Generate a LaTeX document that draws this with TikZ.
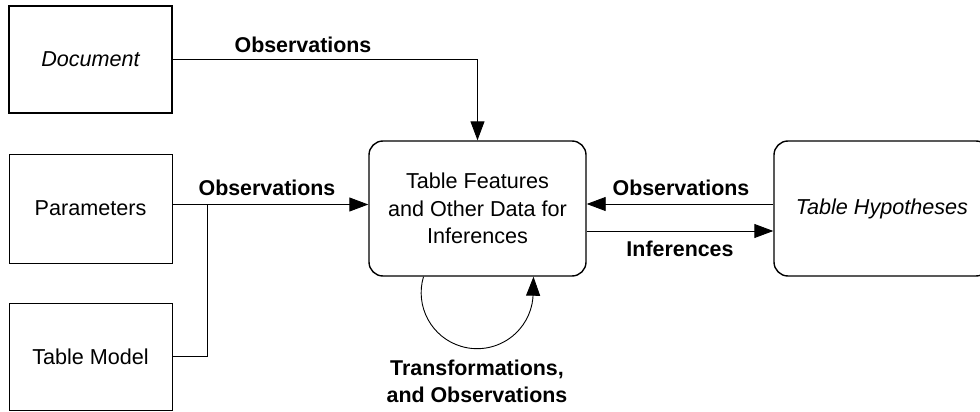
\documentclass[tikz,border=0pt]{standalone}
\usepackage{fontspec}
\setmainfont{Liberation Sans}
\usetikzlibrary{arrows.meta}
\begin{document}
\begin{tikzpicture}[x=1pt,y=-1pt,
  sqbox/.style={draw,line width=1pt,inner sep=0pt,font=\fontsize{21.6}{26}\selectfont},
  rbox/.style={draw,line width=1.4pt,rounded corners=14pt,inner sep=0pt,align=center,font=\fontsize{21.6}{27.5}\selectfont},
  conn/.style={line width=0.9pt},
  arr/.style={conn,-{Triangle[length=19pt,width=14pt]}},
  lbl/.style={font=\fontsize{21.4}{27}\selectfont\bfseries,align=center,inner sep=0pt}]
\useasboundingbox (0,0) rectangle (980,412);
\node[sqbox,line width=1.6pt,minimum width=163pt,minimum height=107pt] (doc) at (90.5,59.5) {\itshape Document};
\node[sqbox,minimum width=163pt,minimum height=109pt] (par) at (90.5,208.5) {Parameters};
\node[sqbox,minimum width=163pt,minimum height=107pt] (tm) at (90.5,356.5) {Table Model};
\node[rbox,minimum width=217pt,minimum height=135pt] (c) at (477.5,208.5) {Table Features\\and Other Data for\\Inferences};
\node[rbox,minimum width=216pt,minimum height=135pt] (hyp) at (882,208.5) {\itshape Table Hypotheses};
\coordinate (j) at (207.5,204.5);
% connectors
\draw[arr] (doc.east) -| (c.north);
\draw[arr] ([yshift=4pt]par.east) -- ([yshift=4pt]c.west);
\draw[conn] (tm.east) -| (j);
\draw[arr] ([yshift=4.5pt]hyp.west) -- ([yshift=4.5pt]c.east);
\draw[arr] ([yshift=-22.5pt]c.east) -- ([yshift=-22.5pt]hyp.west);
\draw[arr] ([xshift=-54pt]c.south) arc[start angle=196.6,end angle=0,radius=56] -- ([xshift=56pt]c.south);
% labels
\node[lbl] (l1) at (303,45) {Observations};
\node[lbl] (l2) at (267,188) {Observations};
\node[lbl] (l3) at (681,188) {Observations};
\node[lbl] (l4) at (680,249) {Inferences};
\node[lbl] (l5) at (477,381.5) {Transformations,\\and Observations};
\end{tikzpicture}
\end{document}
